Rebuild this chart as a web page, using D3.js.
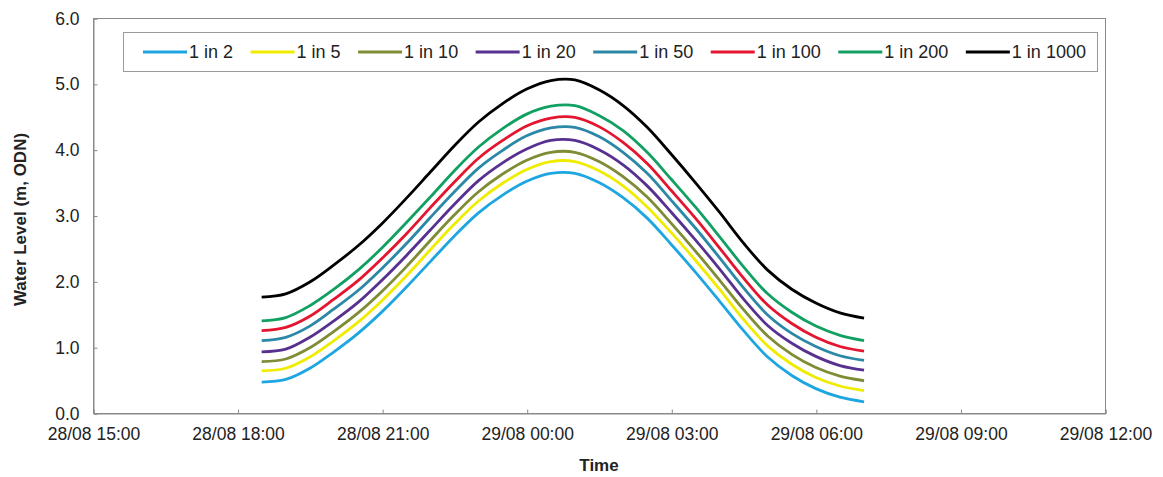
<!DOCTYPE html>
<html>
<head>
<meta charset="utf-8">
<script src="https://cdn.jsdelivr.net/npm/d3@7"></script>
<style>
  html, body { margin: 0; padding: 0; background: #ffffff; }
  svg { display: block; font-family: "Liberation Sans", Arial, sans-serif; }
</style>
</head>
<body>
<svg id="chart" width="1163" height="477"></svg>
<script>
// ---------- DATA ----------
const times = ["28/08 18:30","28/08 19:00","28/08 19:30","28/08 20:00","28/08 20:30","28/08 21:00",
  "28/08 21:30","28/08 22:00","28/08 22:30","28/08 23:00","28/08 23:30","29/08 00:00",
  "29/08 00:30","29/08 01:00","29/08 01:30","29/08 02:00","29/08 02:30","29/08 03:00",
  "29/08 03:30","29/08 04:00","29/08 04:30","29/08 05:00","29/08 05:30","29/08 06:00",
  "29/08 06:30","29/08 07:00"];

const seriesNames = ["1 in 2","1 in 5","1 in 10","1 in 20","1 in 50","1 in 100","1 in 200","1 in 1000"];
const seriesColors = ["#1ea6e0","#f0ec00","#7f8c35","#58308f","#2b88a6","#e4152f","#12a062","#000000"];

const s1in2    = [0.47,0.51,0.68,0.93,1.21,1.54,1.91,2.30,2.69,3.04,3.31,3.52,3.64,3.64,3.50,3.27,2.96,2.56,2.14,1.70,1.25,0.85,0.57,0.37,0.24,0.17];
const s1in5    = [0.64,0.68,0.85,1.10,1.38,1.71,2.08,2.48,2.87,3.22,3.49,3.70,3.82,3.82,3.68,3.45,3.13,2.74,2.32,1.88,1.42,1.02,0.74,0.54,0.41,0.34];
const s1in10   = [0.78,0.82,0.99,1.24,1.52,1.85,2.22,2.62,3.01,3.36,3.63,3.84,3.96,3.96,3.82,3.59,3.28,2.88,2.46,2.02,1.57,1.17,0.89,0.69,0.56,0.49];
const s1in20   = [0.93,0.97,1.15,1.40,1.68,2.02,2.39,2.78,3.17,3.53,3.80,4.01,4.14,4.14,4.00,3.77,3.45,3.05,2.63,2.19,1.73,1.33,1.06,0.86,0.72,0.65];
const s1in50   = [1.10,1.15,1.32,1.58,1.86,2.20,2.57,2.97,3.36,3.72,3.99,4.21,4.33,4.34,4.20,3.96,3.64,3.23,2.81,2.36,1.90,1.49,1.21,1.01,0.87,0.80];
const s1in100  = [1.25,1.30,1.47,1.73,2.01,2.35,2.72,3.12,3.51,3.87,4.14,4.36,4.48,4.49,4.35,4.11,3.79,3.38,2.96,2.51,2.05,1.64,1.36,1.15,1.01,0.94];
const s1in200  = [1.40,1.45,1.63,1.88,2.17,2.51,2.89,3.28,3.68,4.04,4.32,4.54,4.66,4.67,4.52,4.29,3.96,3.55,3.13,2.68,2.22,1.81,1.53,1.32,1.18,1.10];
const s1in1000 = [1.76,1.81,1.99,2.25,2.54,2.88,3.26,3.66,4.06,4.42,4.70,4.92,5.05,5.06,4.91,4.67,4.34,3.93,3.50,3.05,2.58,2.17,1.88,1.67,1.52,1.44];

const xTickLabels = ["28/08 15:00","28/08 18:00","28/08 21:00","29/08 00:00","29/08 03:00","29/08 06:00","29/08 09:00","29/08 12:00"];
const yTicks = [0,1,2,3,4,5,6];

const xTitle = "Time";
const yTitle = "Water Level (m, ODN)";

// ---------- CHART ----------
const parse = d3.timeParse("%d/%m %H:%M");
const fmt = d3.timeFormat("%d/%m %H:%M");
const allSeries = [s1in2, s1in5, s1in10, s1in20, s1in50, s1in100, s1in200, s1in1000];

const svg = d3.select("#chart");
const m = { left: 93, right: 1105, top: 18, bottom: 413 };

const xTickDates = xTickLabels.map(parse);
const x = d3.scaleTime()
  .domain([xTickDates[0], xTickDates[xTickDates.length - 1]])
  .range([m.left, m.right]);
const y = d3.scaleLinear().domain([0, 6]).range([m.bottom, m.top]);

const textColor = "#222";
const axisColor = "#8a8a8a";
const fontFam = "'Liberation Sans', Arial, sans-serif";

// plot frame
svg.append("rect")
  .attr("x", m.left + 0.5).attr("y", m.top + 0.5)
  .attr("width", m.right - m.left).attr("height", m.bottom - m.top)
  .attr("fill", "#fff").attr("stroke", axisColor).attr("stroke-width", 1);

// Y axis
const yAxis = svg.append("g")
  .attr("transform", `translate(${m.left + 0.5},0.5)`)
  .call(d3.axisLeft(y).tickValues(yTicks).tickFormat(d3.format(".1f")).tickSize(-4).tickPadding(14));
yAxis.select(".domain").attr("stroke", axisColor);
yAxis.selectAll(".tick line").attr("stroke", axisColor);
yAxis.selectAll("text").attr("fill", textColor).style("font-size", "17.5px").style("font-family", fontFam);

// X axis
const xAxis = svg.append("g")
  .attr("transform", `translate(0.5,${m.bottom + 0.5})`)
  .call(d3.axisBottom(x).tickValues(xTickDates).tickFormat(fmt).tickSize(-4).tickPadding(14));
xAxis.select(".domain").attr("stroke", axisColor);
xAxis.selectAll(".tick line").attr("stroke", axisColor);
xAxis.selectAll("text").attr("fill", textColor).style("font-size", "17.5px").style("font-family", fontFam);

// Axis titles
svg.append("text")
  .attr("x", (m.left + m.right) / 2).attr("y", 471)
  .attr("text-anchor", "middle")
  .style("font-size", "17px").style("font-weight", "bold").style("font-family", fontFam)
  .attr("fill", textColor)
  .text(xTitle);

svg.append("text")
  .attr("transform", `translate(26,${(m.top + m.bottom) / 2 + 4}) rotate(-90)`)
  .attr("text-anchor", "middle")
  .style("font-size", "17px").style("font-weight", "bold").style("font-family", fontFam)
  .attr("fill", textColor)
  .text(yTitle);

// Lines
const timeDates = times.map(parse);
const line = d3.line()
  .x((d, i) => x(timeDates[i]))
  .y(d => y(d))
  .curve(d3.curveCatmullRom.alpha(0.5));

const linesG = svg.append("g");
allSeries.forEach((vals, k) => {
  linesG.append("path")
    .datum(vals)
    .attr("d", line)
    .attr("fill", "none")
    .attr("stroke", seriesColors[k])
    .attr("stroke-width", 2.8)
    .attr("stroke-linejoin", "round")
    .attr("stroke-linecap", "butt");
});

// Legend
const lg = svg.append("g");
const legendBox = lg.append("rect")
  .attr("x", 123.5).attr("y", 32.5)
  .attr("height", 39)
  .attr("fill", "#fff").attr("stroke", "#9a9a9a").attr("stroke-width", 1);

let cx = 143;
const ly = 52;
seriesNames.forEach((name, k) => {
  lg.append("line")
    .attr("x1", cx).attr("x2", cx + 44)
    .attr("y1", ly).attr("y2", ly)
    .attr("stroke", seriesColors[k]).attr("stroke-width", 2.8);
  const t = lg.append("text")
    .attr("x", cx + 46).attr("y", ly)
    .attr("dy", "0.35em")
    .style("font-size", "18px").style("font-family", fontFam).attr("fill", textColor)
    .text(name);
  const w = t.node().getComputedTextLength();
  cx = cx + 46 + w + 17.5;
});
legendBox.attr("width", 1097 - 123);
</script>
</body>
</html>
